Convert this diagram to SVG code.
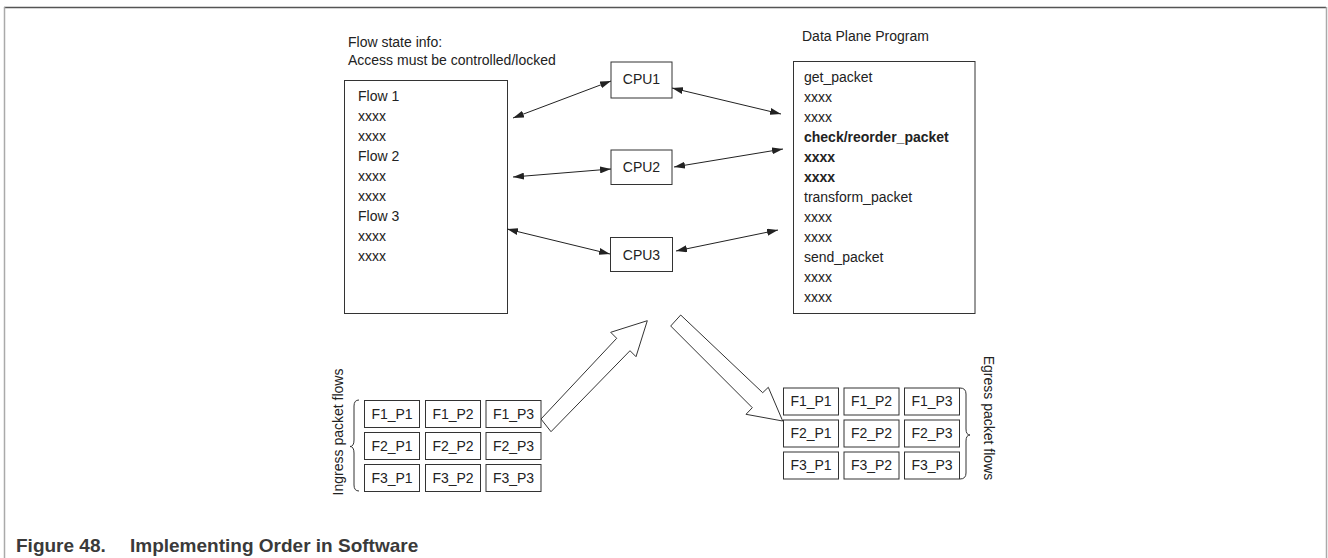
<svg xmlns="http://www.w3.org/2000/svg" width="1328" height="558" viewBox="0 0 1328 558">
<style>
text{font-family:"Liberation Sans",Arial,sans-serif;font-size:14px;fill:#222}
.b{font-weight:bold}
.box{fill:#fff;stroke:#333;stroke-width:1}
.conn{stroke:#222;stroke-width:1;fill:none}
.blk{fill:#fff;stroke:#333;stroke-width:1}
.brace{fill:none;stroke:#333;stroke-width:1}
.c{text-anchor:middle}
.cap{font-weight:bold;font-size:19px;fill:#3a3a3a}
</style>
<defs>
<marker id="ah" viewBox="0 0 11 7" refX="11" refY="3.5" markerWidth="11" markerHeight="7" markerUnits="userSpaceOnUse" orient="auto-start-reverse">
<path d="M0,0 L11,3.5 L0,7 z" fill="#222"/>
</marker>
</defs>
<rect x="0" y="0" width="1328" height="558" fill="#fff"/>
<g id="frame">
<line x1="4" y1="7.5" x2="1326" y2="7.5" stroke="#555" stroke-width="1.5"/>
<line x1="4.5" y1="7" x2="4.5" y2="558" stroke="#aaa" stroke-width="1.5"/>
<line x1="1326.5" y1="7" x2="1326.5" y2="558" stroke="#aaa" stroke-width="1.5"/>
</g>
<g id="flowstate">
<text x="348" y="47">Flow state info:</text>
<text x="348" y="65">Access must be controlled/locked</text>
<rect class="box" x="344.5" y="80.5" width="163" height="233"/>
<text x="358" y="101">Flow 1</text>
<text x="358" y="121">xxxx</text>
<text x="358" y="141">xxxx</text>
<text x="358" y="161">Flow 2</text>
<text x="358" y="181">xxxx</text>
<text x="358" y="201">xxxx</text>
<text x="358" y="221">Flow 3</text>
<text x="358" y="241">xxxx</text>
<text x="358" y="261">xxxx</text>
</g>
<g id="cpu1">
<rect class="box" x="611" y="62" width="61" height="36"/>
<text class="c" x="641.5" y="84">CPU1</text>
</g>
<g id="cpu2">
<rect class="box" x="611" y="150" width="61" height="34.5"/>
<text class="c" x="641.5" y="171.5">CPU2</text>
</g>
<g id="cpu3">
<rect class="box" x="610.5" y="237.5" width="62" height="34"/>
<text class="c" x="641.5" y="259.5">CPU3</text>
</g>
<g id="dataplane">
<text x="802" y="41">Data Plane Program</text>
<rect class="box" x="793.5" y="61.5" width="181.5" height="252"/>
<text x="804" y="82">get_packet</text>
<text x="804" y="102">xxxx</text>
<text x="804" y="122">xxxx</text>
<text class="b" x="804" y="142">check/reorder_packet</text>
<text class="b" x="804" y="162">xxxx</text>
<text class="b" x="804" y="182">xxxx</text>
<text x="804" y="202">transform_packet</text>
<text x="804" y="222">xxxx</text>
<text x="804" y="242">xxxx</text>
<text x="804" y="262">send_packet</text>
<text x="804" y="282">xxxx</text>
<text x="804" y="302">xxxx</text>
</g>
<g id="connectors">
<line class="conn" x1="513" y1="118" x2="611" y2="81" marker-start="url(#ah)" marker-end="url(#ah)"/>
<line class="conn" x1="513" y1="177" x2="611" y2="169" marker-start="url(#ah)" marker-end="url(#ah)"/>
<line class="conn" x1="507" y1="229" x2="610" y2="254" marker-start="url(#ah)" marker-end="url(#ah)"/>
<line class="conn" x1="672" y1="88" x2="781" y2="114" marker-start="url(#ah)" marker-end="url(#ah)"/>
<line class="conn" x1="674" y1="167" x2="783" y2="149" marker-start="url(#ah)" marker-end="url(#ah)"/>
<line class="conn" x1="676" y1="251" x2="778" y2="230" marker-start="url(#ah)" marker-end="url(#ah)"/>
<polygon class="blk" points="541,419 616.7,338.3 610.7,332.3 647.3,320.7 636,356.7 630,350.7 551,431.7"/>
<polygon class="blk" points="680.7,315 762.7,392.7 768.3,387.3 782.7,421 746,414.3 752.3,407.7 670.7,326"/>
</g>
<g id="ingress">
<text class="c" transform="translate(343,432) rotate(-90)" x="0" y="0">Ingress packet flows</text>
<path class="brace" d="M359,400 Q354,400 354,406 L354,440 Q354,446.5 350,446.5 Q354,446.5 354,453 L354,485 Q354,491 359,491"/>
<rect class="box" x="364.5" y="400.5" width="55" height="27"/>
<rect class="box" x="425.5" y="400.5" width="55" height="27"/>
<rect class="box" x="486" y="400.5" width="55" height="27"/>
<rect class="box" x="364.5" y="432.5" width="55" height="27"/>
<rect class="box" x="425.5" y="432.5" width="55" height="27"/>
<rect class="box" x="486" y="432.5" width="55" height="27"/>
<rect class="box" x="364.5" y="464.5" width="55" height="27"/>
<rect class="box" x="425.5" y="464.5" width="55" height="27"/>
<rect class="box" x="486" y="464.5" width="55" height="27"/>
<text class="c" x="392" y="419">F1_P1</text>
<text class="c" x="453" y="419">F1_P2</text>
<text class="c" x="513.5" y="419">F1_P3</text>
<text class="c" x="392" y="451">F2_P1</text>
<text class="c" x="453" y="451">F2_P2</text>
<text class="c" x="513.5" y="451">F2_P3</text>
<text class="c" x="392" y="483">F3_P1</text>
<text class="c" x="453" y="483">F3_P2</text>
<text class="c" x="513.5" y="483">F3_P3</text>
</g>
<g id="egress">
<text class="c" transform="translate(984,418) rotate(90)" x="0" y="0">Egress packet flows</text>
<path class="brace" d="M960,388 Q966,388 966,394 L966,429 Q966,435 970,435 Q966,435 966,441 L966,473 Q966,479 960,479"/>
<rect class="box" x="783.5" y="388" width="55" height="27"/>
<rect class="box" x="844" y="388" width="55" height="27"/>
<rect class="box" x="904.5" y="388" width="55" height="27"/>
<rect class="box" x="783.5" y="420" width="55" height="27"/>
<rect class="box" x="844" y="420" width="55" height="27"/>
<rect class="box" x="904.5" y="420" width="55" height="27"/>
<rect class="box" x="783.5" y="452" width="55" height="27"/>
<rect class="box" x="844" y="452" width="55" height="27"/>
<rect class="box" x="904.5" y="452" width="55" height="27"/>
<text class="c" x="811" y="406">F1_P1</text>
<text class="c" x="871.5" y="406">F1_P2</text>
<text class="c" x="932" y="406">F1_P3</text>
<text class="c" x="811" y="438">F2_P1</text>
<text class="c" x="871.5" y="438">F2_P2</text>
<text class="c" x="932" y="438">F2_P3</text>
<text class="c" x="811" y="470">F3_P1</text>
<text class="c" x="871.5" y="470">F3_P2</text>
<text class="c" x="932" y="470">F3_P3</text>
</g>
<g id="caption">
<text class="cap" x="16" y="552">Figure 48.</text>
<text class="cap" x="130" y="552">Implementing Order in Software</text>
</g>
</svg>
